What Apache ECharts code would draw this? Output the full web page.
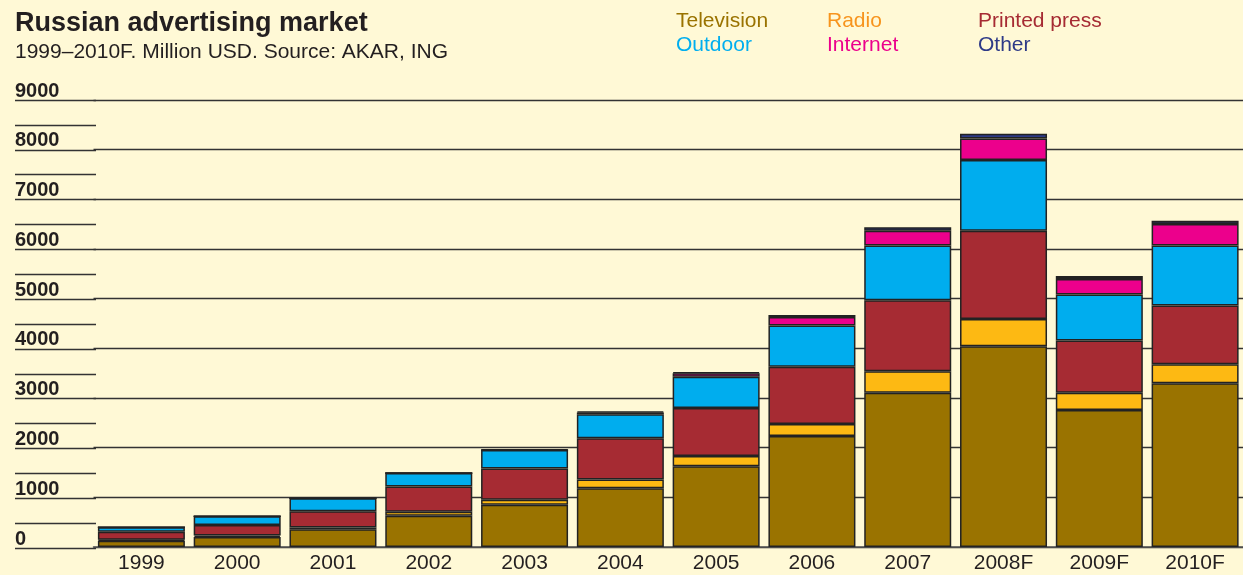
<!DOCTYPE html>
<html>
<head>
<meta charset="utf-8">
<script src="https://cdn.jsdelivr.net/npm/echarts@6/dist/echarts.min.js"></script>
<style>
html,body{margin:0;padding:0;background:#FFF9D6;}
#c{width:1243px;height:575px;}
</style>
</head>
<body>
<div id="c"></div>
<script>
const categories = ['1999','2000','2001','2002','2003','2004','2005','2006','2007','2008F','2009F','2010F'];
const television = [126, 200, 355, 629, 849, 1185, 1627, 2235, 3106, 4042, 2757, 3299];
const radio      = [20, 30, 40, 80, 100, 175, 207, 241, 434, 550, 349, 382];
const press      = [160, 213, 327, 510, 631, 829, 964, 1153, 1426, 1773, 1050, 1179];
const outdoor    = [92, 175, 261, 273, 373, 482, 631, 829, 1104, 1426, 930, 1211];
const internet   = [0, 0, 0, 0, 0, 35, 70, 175, 295, 436, 309, 430];
const other      = [0, 0, 0, 0, 15, 20, 20, 40, 74, 92, 60, 66];
const yTicks = [0, 1000, 2000, 3000, 4000, 5000, 6000, 7000, 8000, 9000];

const seriesDefs = [
  {name:'Television', data: television, color:'#9A7300', text:'#9A7300'},
  {name:'Radio', data: radio, color:'#FDB913', text:'#F7941D'},
  {name:'Printed press', data: press, color:'#A62B33', text:'#A62B33'},
  {name:'Outdoor', data: outdoor, color:'#00ADEE', text:'#00AEEF'},
  {name:'Internet', data: internet, color:'#EC008C', text:'#EC008C'},
  {name:'Other', data: other, color:'#2E3A87', text:'#2E3A87'}
];
const colOf = n => seriesDefs.find(s => s.name === n).text;
const font = '"Liberation Sans", Arial, Helvetica, sans-serif';

function legendCol(left, names){
  return {
    left: left, top: 4, orient: 'vertical', icon: 'none',
    itemWidth: 0, itemHeight: 10, itemGap: 0,
    selectedMode: false,
    data: names.map(n => ({name:n, textStyle:{color: colOf(n)}})),
    textStyle: {fontFamily: font, fontSize: 21, lineHeight: 24}
  };
}

const chart = echarts.init(document.getElementById('c'), null, {renderer:'canvas'});
chart.setOption({
  backgroundColor: '#FFF9D6',
  animation: false,
  title: {
    left: 15, top: 8,
    text: 'Russian advertising market',
    subtext: '1999–2010F. Million USD. Source: AKAR, ING',
    itemGap: 1,
    textStyle: {fontFamily: font, fontWeight: 'bold', fontSize: 27, lineHeight: 31, color: '#231F20'},
    subtextStyle: {fontFamily: font, fontSize: 21, lineHeight: 24, color: '#231F20'},
    padding: 0
  },
  legend: [
    legendCol(666, ['Television','Outdoor']),
    legendCol(817, ['Radio','Internet']),
    legendCol(968, ['Printed press','Other'])
  ],
  grid: [
    {left: 15, width: 81, top: 100, bottom: 27},
    {left: 93.5, width: 1151.5, top: 100, bottom: 27}
  ],
  xAxis: [
    {gridIndex: 0, type: 'value', show: false, min: 0, max: 1},
    {gridIndex: 1, type: 'category', data: categories,
     axisLine: {show: true, lineStyle: {color: '#555', width: 1.5}},
     axisTick: {show: false},
     axisLabel: {margin: 4, fontFamily: font, fontSize: 21, lineHeight: 24, color: '#231F20'}}
  ],
  yAxis: [
    {gridIndex: 0, type: 'value', min: 0, max: 9000, interval: 500,
     axisLine: {show: false}, axisTick: {show: false},
     splitLine: {show: true, lineStyle: {color: '#333', width: 1.3}},
     axisLabel: {
       inside: false, margin: 0, align: 'left', verticalAlign: 'bottom',
       lineHeight: 20, padding: [0, 0, -1, 0],
       fontFamily: font, fontWeight: 'bold', fontSize: 20, color: '#231F20',
       formatter: v => yTicks.indexOf(v) >= 0 ? String(v) : ''
     }},
    {gridIndex: 1, type: 'value', min: 0, max: 9000, interval: 1000,
     axisLine: {show: false}, axisTick: {show: false}, axisLabel: {show: false},
     splitLine: {show: true, lineStyle: {color: '#333', width: 1.3}}}
  ],
  series: seriesDefs.map(s => ({
    name: s.name, type: 'bar', stack: 'total',
    xAxisIndex: 1, yAxisIndex: 1,
    barWidth: 87,
    data: s.data,
    itemStyle: {color: s.color, borderColor: '#222', borderWidth: 1.5},
    emphasis: {disabled: true}
  }))
});
</script>
</body>
</html>
